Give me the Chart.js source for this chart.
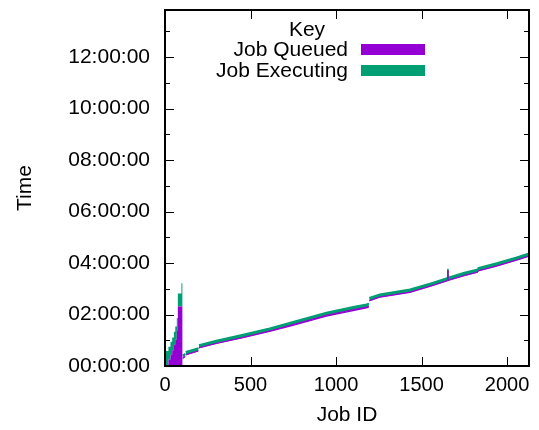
<!DOCTYPE html>
<html>
<head>
<meta charset="utf-8">
<script src="https://cdn.jsdelivr.net/npm/chart.js@4.4.0/dist/chart.umd.min.js"></script>
<style>
  html, body { margin: 0; padding: 0; background: #fff; }
  #wrap { width: 539px; height: 430px; }
</style>
</head>
<body>
<div id="wrap"><canvas id="jobChart" width="539" height="430"></canvas></div>
<script>
// times are in hours since the first submission

// first ~100 jobs, all submitted at t=0 and run in waves
const stairJobs   = [0, 20, 32, 42, 52, 60, 69, 75, 96, 103];
const stairSubmit = [0, 0, 0, 0, 0, 0, 0, 0, 0, 0];
const stairStart  = [0, 0.25, 0.44, 0.61, 0.83, 1.03, 1.36, 2.31, 2.31, 2.31];
const stairEnd    = [0.58, 0.75, 0.94, 1.11, 1.33, 1.53, 1.86, 2.82, 3.21, 3.21];

// the rest of the jobs (null = break in the line)
const rampJobs   = [103, 119, 120, 121, 196, 197, 198, 300, 450, 612, 748, 944, 1100, 1178, 1192, 1193, 1194, 1256, 1432, 1549, 1653, 1654, 1655, 1750, 1829, 1831, 1939, 2056, 2128];
const rampSubmit = [0.27, 0.34, null, 0.41, 0.56, null, 0.68, 0.85, 1.07, 1.32, 1.55, 1.91, 2.13, 2.23, 2.26, null, 2.51, 2.65, 2.84, 3.07, 3.29, 3.30, 3.30, 3.49, 3.62, 3.67, 3.86, 4.09, 4.24];
const rampStart  = [0.30, 0.37, null, 0.44, 0.59, null, 0.71, 0.88, 1.10, 1.36, 1.61, 1.97, 2.19, 2.29, 2.32, null, 2.54, 2.68, 2.87, 3.10, 3.32, 3.72, 3.33, 3.52, 3.65, 3.70, 3.89, 4.12, 4.27];
const rampEnd    = [0.41, 0.48, null, 0.55, 0.70, null, 0.82, 0.99, 1.21, 1.47, 1.72, 2.08, 2.30, 2.40, 2.43, null, 2.65, 2.79, 2.98, 3.21, 3.43, 3.78, 3.44, 3.63, 3.76, 3.81, 4.00, 4.23, 4.38];

const jobTicks  = [0, 500, 1000, 1500, 2000];
const timeTicks = [0, 2, 4, 6, 8, 10, 12];
const timeMinorTicks = [1, 3, 5, 7, 9, 11, 13];

const seriesNames = ['Job Queued', 'Job Executing'];
const purple = '#9400d3';
const green = '#009e73';
const FONT = '"Liberation Sans", Arial, sans-serif';

Chart.defaults.font.family = FONT;
Chart.defaults.font.size = 21;
Chart.defaults.color = '#000';

function pts(xs, ys) {
    return xs.map(function(x, i) { return { x: x, y: ys[i] }; });
}

function hms(h) {
    return String(h).padStart(2, '0') + ':00:00';
}

//////////// frame, inward ticks and key

const framePlugin = {
    id: 'frame',
    afterDraw: function(chart) {
        const ctx = chart.ctx;
        const a = chart.chartArea;
        const xs = chart.scales.x;
        const ys = chart.scales.y;
        ctx.save();
        ctx.strokeStyle = '#000';
        ctx.lineWidth = 1;
        ctx.beginPath();
        jobTicks.forEach(function(v) {
            const px = Math.round(xs.getPixelForValue(v)) + 0.5;
            ctx.moveTo(px, a.bottom); ctx.lineTo(px, a.bottom - 9);
            ctx.moveTo(px, a.top); ctx.lineTo(px, a.top + 9);
        });
        timeTicks.forEach(function(v) {
            const py = Math.round(ys.getPixelForValue(v)) + 0.5;
            ctx.moveTo(a.left, py); ctx.lineTo(a.left + 9, py);
            ctx.moveTo(a.right, py); ctx.lineTo(a.right - 9, py);
        });
        timeMinorTicks.forEach(function(v) {
            const py = Math.round(ys.getPixelForValue(v)) + 0.5;
            ctx.moveTo(a.left, py); ctx.lineTo(a.left + 5, py);
            ctx.moveTo(a.right, py); ctx.lineTo(a.right - 5, py);
        });
        ctx.stroke();

        ctx.lineWidth = 2;
        ctx.strokeRect(a.left, a.top, a.right - a.left, a.bottom - a.top);

        // key
        ctx.fillStyle = '#000';
        ctx.font = '21px ' + FONT;
        ctx.textBaseline = 'middle';
        ctx.textAlign = 'center';
        ctx.fillText('Key', 307, 30);
        ctx.textAlign = 'right';
        ctx.fillText(seriesNames[0], 348, 50);
        ctx.fillText(seriesNames[1], 348, 71);
        ctx.fillStyle = purple;
        ctx.fillRect(361, 44, 64, 11);
        ctx.fillStyle = green;
        ctx.fillRect(361, 65, 64, 11);
        ctx.restore();
    }
};

const base = { pointRadius: 0, borderWidth: 0, tension: 0 };

new Chart(document.getElementById('jobChart'), {
    type: 'line',
    data: {
        datasets: [
            Object.assign({}, base, { label: seriesNames[0], data: pts(stairJobs, stairStart), stepped: true,
                backgroundColor: purple, borderColor: purple, fill: 2 }),
            Object.assign({}, base, { label: seriesNames[0], data: pts(rampJobs, rampStart),
                backgroundColor: purple, borderColor: purple, borderWidth: 1, fill: 3 }),
            Object.assign({}, base, { label: 'submit', data: pts(stairJobs, stairSubmit), stepped: true, fill: false }),
            Object.assign({}, base, { label: 'submit', data: pts(rampJobs, rampSubmit), fill: false }),
            Object.assign({}, base, { label: seriesNames[1], data: pts(stairJobs, stairEnd), stepped: true,
                backgroundColor: green, borderColor: green, fill: 0 }),
            Object.assign({}, base, { label: seriesNames[1], data: pts(rampJobs, rampEnd),
                backgroundColor: green, borderColor: green, borderWidth: 1.5, fill: 1 })
        ]
    },
    options: {
        responsive: false,
        animation: false,
        devicePixelRatio: 1,
        layout: { padding: { top: 10, right: 10, left: 0, bottom: 0 } },
        plugins: {
            legend: { display: false },
            tooltip: { enabled: false }
        },
        scales: {
            x: {
                type: 'linear',
                min: 0,
                max: 2128,
                grid: { display: false, drawTicks: false },
                border: { display: false },
                ticks: { padding: 7, maxRotation: 0, font: { size: 20 }, callback: function(v) { return String(v); } },
                afterBuildTicks: function(s) { s.ticks = jobTicks.map(function(v) { return { value: v }; }); },
                afterFit: function(s) { s.height = 64; s.paddingLeft = 0; s.paddingRight = 0; },
                title: { display: true, text: 'Job ID', padding: { top: 0, bottom: 2 } }
            },
            y: {
                type: 'linear',
                min: 0,
                max: 13.83,
                grid: { display: false, drawTicks: false },
                border: { display: false },
                ticks: { padding: 15, callback: function(v) { return hms(v); } },
                afterBuildTicks: function(s) { s.ticks = timeTicks.map(function(v) { return { value: v }; }); },
                afterFit: function(s) { s.width = 165; s.paddingTop = 0; s.paddingBottom = 0; },
                title: { display: true, text: 'Time', padding: { top: 13, bottom: 0 } }
            }
        }
    },
    plugins: [framePlugin]
});
</script>
</body>
</html>
